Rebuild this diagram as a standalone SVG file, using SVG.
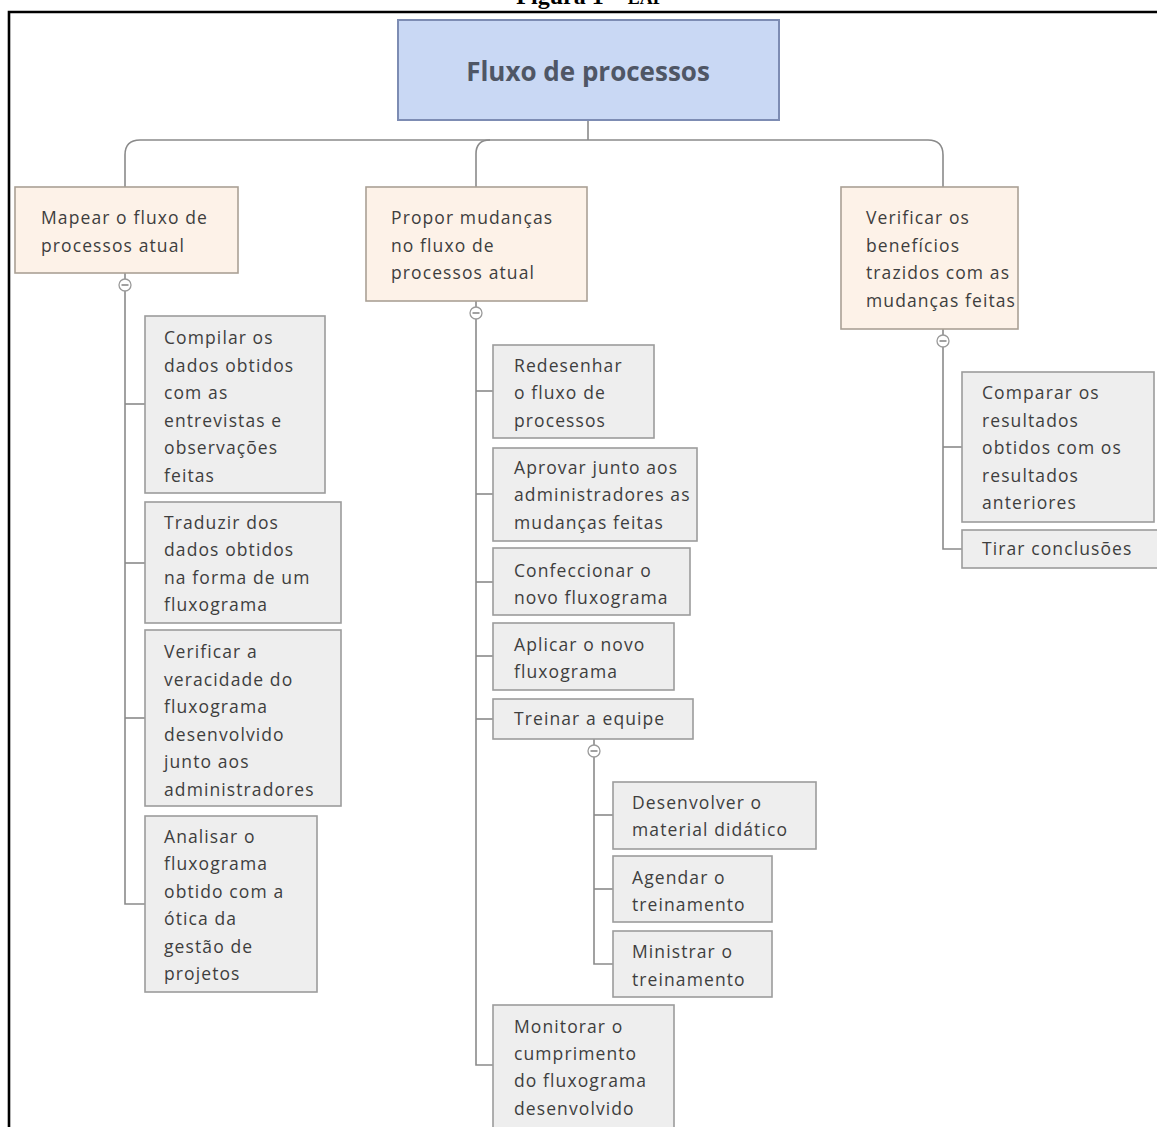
<svg xmlns="http://www.w3.org/2000/svg" width="1157" height="1127" viewBox="0 0 1157 1127">
<style>
.frame{stroke:#000;stroke-width:2.6;fill:none}
.cap{font-family:"Liberation Serif",serif;font-weight:bold;fill:#000}
.root rect{fill:#c9d8f4;stroke:#7d8cb3;stroke-width:2}
.root text{font-family:"Open Sans",sans-serif;font-weight:bold;font-size:26px;fill:#4f5665}
.l1 rect{fill:#fdf2e8;stroke:#aaa095;stroke-width:1.6}
.l2 rect{fill:#eeeeee;stroke:#9c9c9c;stroke-width:1.6}
.n text{font-family:"Open Sans",sans-serif;font-size:17.5px;letter-spacing:1.1px;fill:#3e3e3e}
.c path,.c line{stroke:#8a8a8a;stroke-width:1.6;fill:none}
.c circle{fill:#fff;stroke:#9a9a9a;stroke-width:1.3}
</style>
<text class="cap" x="590" y="4" text-anchor="middle" font-size="24">Figura 1 – <tspan font-size="18">EAP</tspan></text>
<path class="frame" d="M9,1127 V12 H1157"/>
<g id="connectors" class="c">
<path d="M588,121 V140"/>
<path d="M125,187 V155 Q125,140 140,140 H928 Q943,140 943,155 V187"/>
<path d="M476,187 V154 Q476,140 490,140"/>
<line x1="125" y1="273" x2="125" y2="279"/>
<path d="M125,291 V904 H145"/>
<line x1="125" y1="404" x2="145" y2="404"/>
<line x1="125" y1="563" x2="145" y2="563"/>
<line x1="125" y1="718" x2="145" y2="718"/>
<line x1="476" y1="301" x2="476" y2="307"/>
<path d="M476,319 V1065 H493"/>
<line x1="476" y1="391" x2="493" y2="391"/>
<line x1="476" y1="494" x2="493" y2="494"/>
<line x1="476" y1="582" x2="493" y2="582"/>
<line x1="476" y1="656" x2="493" y2="656"/>
<line x1="476" y1="719" x2="493" y2="719"/>
<line x1="594" y1="739" x2="594" y2="745"/>
<path d="M594,757 V964 H613"/>
<line x1="594" y1="815" x2="613" y2="815"/>
<line x1="594" y1="889" x2="613" y2="889"/>
<line x1="943" y1="329" x2="943" y2="335"/>
<path d="M943,347 V549 H962"/>
<line x1="943" y1="447" x2="962" y2="447"/>
<circle cx="125" cy="285" r="6"/><line x1="121.5" y1="285" x2="128.5" y2="285"/>
<circle cx="476" cy="313" r="6"/><line x1="472.5" y1="313" x2="479.5" y2="313"/>
<circle cx="594" cy="751" r="6"/><line x1="590.5" y1="751" x2="597.5" y2="751"/>
<circle cx="943" cy="341" r="6"/><line x1="939.5" y1="341" x2="946.5" y2="341"/>
</g>
<g id="root" class="root"><rect x="398" y="20" width="381" height="100"/><text x="588" y="81" text-anchor="middle">Fluxo de processos</text></g>
<g id="n-mapear" class="n l1"><rect x="15" y="187" width="223" height="86"/><text x="41"><tspan x="41" y="224">Mapear o fluxo de</tspan><tspan x="41" y="252">processos atual</tspan></text></g>
<g id="n-propor" class="n l1"><rect x="366" y="187" width="221" height="114"/><text><tspan x="391" y="224">Propor mudanças</tspan><tspan x="391" y="252">no fluxo de</tspan><tspan x="391" y="279">processos atual</tspan></text></g>
<g id="n-verificar" class="n l1"><rect x="841" y="187" width="177" height="142"/><text><tspan x="866" y="224">Verificar os</tspan><tspan x="866" y="252">benefícios</tspan><tspan x="866" y="279">trazidos com as</tspan><tspan x="866" y="307">mudanças feitas</tspan></text></g>
<g id="n-compilar" class="n l2"><rect x="145" y="316" width="180" height="177"/><text><tspan x="164" y="344">Compilar os</tspan><tspan x="164" y="372">dados obtidos</tspan><tspan x="164" y="399">com as</tspan><tspan x="164" y="427">entrevistas e</tspan><tspan x="164" y="454">observações</tspan><tspan x="164" y="482">feitas</tspan></text></g>
<g id="n-traduzir" class="n l2"><rect x="145" y="502" width="196" height="121"/><text><tspan x="164" y="529">Traduzir dos</tspan><tspan x="164" y="556">dados obtidos</tspan><tspan x="164" y="584">na forma de um</tspan><tspan x="164" y="611">fluxograma</tspan></text></g>
<g id="n-veracidade" class="n l2"><rect x="145" y="630" width="196" height="176"/><text><tspan x="164" y="658">Verificar a</tspan><tspan x="164" y="686">veracidade do</tspan><tspan x="164" y="713">fluxograma</tspan><tspan x="164" y="741">desenvolvido</tspan><tspan x="164" y="768">junto aos</tspan><tspan x="164" y="796">administradores</tspan></text></g>
<g id="n-analisar" class="n l2"><rect x="145" y="816" width="172" height="176"/><text><tspan x="164" y="843">Analisar o</tspan><tspan x="164" y="870">fluxograma</tspan><tspan x="164" y="898">obtido com a</tspan><tspan x="164" y="925">ótica da</tspan><tspan x="164" y="953">gestão de</tspan><tspan x="164" y="980">projetos</tspan></text></g>
<g id="n-redesenhar" class="n l2"><rect x="493" y="345" width="161" height="93"/><text><tspan x="514" y="372">Redesenhar</tspan><tspan x="514" y="399">o fluxo de</tspan><tspan x="514" y="427">processos</tspan></text></g>
<g id="n-aprovar" class="n l2"><rect x="493" y="448" width="204" height="93"/><text><tspan x="514" y="474">Aprovar junto aos</tspan><tspan x="514" y="501">administradores as</tspan><tspan x="514" y="529">mudanças feitas</tspan></text></g>
<g id="n-confeccionar" class="n l2"><rect x="493" y="548" width="197" height="67"/><text><tspan x="514" y="577">Confeccionar o</tspan><tspan x="514" y="604">novo fluxograma</tspan></text></g>
<g id="n-aplicar" class="n l2"><rect x="493" y="623" width="181" height="67"/><text><tspan x="514" y="651">Aplicar o novo</tspan><tspan x="514" y="678">fluxograma</tspan></text></g>
<g id="n-treinar" class="n l2"><rect x="493" y="699" width="200" height="40"/><text x="514" y="725">Treinar a equipe</text></g>
<g id="n-desenvolver" class="n l2"><rect x="613" y="782" width="203" height="67"/><text><tspan x="632" y="809">Desenvolver o</tspan><tspan x="632" y="836">material didático</tspan></text></g>
<g id="n-agendar" class="n l2"><rect x="613" y="856" width="159" height="66"/><text><tspan x="632" y="884">Agendar o</tspan><tspan x="632" y="911">treinamento</tspan></text></g>
<g id="n-ministrar" class="n l2"><rect x="613" y="931" width="159" height="66"/><text><tspan x="632" y="958">Ministrar o</tspan><tspan x="632" y="986">treinamento</tspan></text></g>
<g id="n-monitorar" class="n l2"><rect x="493" y="1005" width="181" height="130"/><text><tspan x="514" y="1033">Monitorar o</tspan><tspan x="514" y="1060">cumprimento</tspan><tspan x="514" y="1087">do fluxograma</tspan><tspan x="514" y="1115">desenvolvido</tspan></text></g>
<g id="n-comparar" class="n l2"><rect x="962" y="372" width="192" height="150"/><text><tspan x="982" y="399">Comparar os</tspan><tspan x="982" y="427">resultados</tspan><tspan x="982" y="454">obtidos com os</tspan><tspan x="982" y="482">resultados</tspan><tspan x="982" y="509">anteriores</tspan></text></g>
<g id="n-tirar" class="n l2"><rect x="962" y="530" width="197" height="38"/><text x="982" y="555">Tirar conclusões</text></g>
</svg>
